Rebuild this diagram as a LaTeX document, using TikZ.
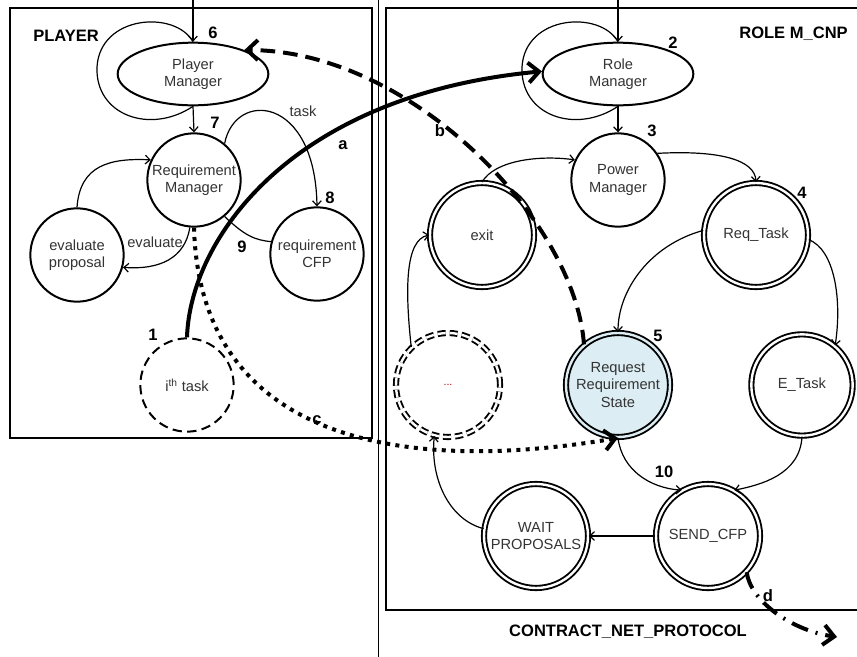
\documentclass[tikz,border=0pt]{standalone}
\usepackage{fontspec}
\setmainfont{Liberation Sans}
\usetikzlibrary{arrows.meta,shapes.geometric}
\definecolor{txt}{HTML}{333333}
\definecolor{rrsfill}{HTML}{DCEEF4}
\begin{document}
\begin{tikzpicture}[x=0.75pt,y=-0.75pt,
  every node/.style={font=\fontsize{11}{12.8}\selectfont, text=txt, align=center},
  lbl/.style={font=\bfseries\fontsize{12.4}{14}\selectfont, text=black, inner sep=0pt},
  elab/.style={inner sep=0pt},
  ell/.style={ellipse, draw, line width=1.5pt, minimum width=113pt, minimum height=47pt, inner sep=0pt},
  st/.style={circle, draw, line width=1.5pt, minimum size=70pt, inner sep=0pt},
  dst/.style={circle, draw, line width=1.4pt, double=white, double distance=1.8pt, minimum size=78pt, inner sep=0pt},
  thin/.style={line width=0.9pt},
  tr/.style={thin, -{Straight Barb[length=3.5pt,width=6.5pt]}},
  big/.style={line width=3pt, -{Straight Barb[length=8pt,width=15pt,line width=3pt]}},
]
\useasboundingbox (0,0) rectangle (857,657);

% frames
\draw[line width=2pt] (10,8) rectangle (372,438);
\draw[line width=2pt] (862,8) -- (386,8) -- (386,610) -- (862,610);
\draw[line width=0.6pt] (378,0) -- (378,657);

\node[lbl, anchor=west] (tP) at (33,36) {PLAYER};
\node[lbl, anchor=east] (tR) at (848,34) {ROLE M\_CNP};
\node[lbl] (tC) at (628,632) {CONTRACT\_NET\_PROTOCOL};

% nodes
\node[ell] (PM) at (193,74) {Player\\Manager};
\node[ell] (RoM) at (618,74) {Role\\Manager};
\node[st] (RM) at (194,180) {Requirement\\Manager};
\node[st] (EP) at (77,255) {evaluate\\proposal};
\node[st] (CFP) at (317,254) {requirement\\CFP};
\node[st, dash pattern=on 7pt off 4pt] (ITH) at (187,385) {i\textsuperscript{th} task};
\node[st] (PowM) at (618,180) {Power\\Manager};
\node[dst] (EXIT) at (482,235) {exit};
\node[dst] (REQT) at (756,235) {Req\_Task};
\node[dst, dash pattern=on 6pt off 3pt] (DOTS) at (448,385) {\textcolor{red!70!black}{\fontsize{8}{9}\selectfont...}};
\node[dst, fill=rrsfill, double=rrsfill] (RRS) at (618,385) {Request\\Requirement\\State};
\node[dst, minimum size=76pt] (ET) at (802,385) {E\_Task};
\node[dst] (SEND) at (708,536) {SEND\_CFP};
\node[dst] (WAIT) at (536,536) {WAIT\\PROPOSALS};

% number labels
\node[lbl] (n6) at (213,33) {6};
\node[lbl] (n7) at (215,123) {7};
\node[lbl] (n8) at (330,198) {8};
\node[lbl] (n9) at (242,247) {9};
\node[lbl] (n1) at (153,335) {1};
\node[lbl] (n2) at (673,43) {2};
\node[lbl] (n3) at (652,131) {3};
\node[lbl] (n4) at (802,193) {4};
\node[lbl] (n5) at (658,336) {5};
\node[lbl] (n10) at (664,472) {10};
\node[lbl] (la) at (343,145) {a};
\node[lbl] (lb) at (440,131) {b};
\node[lbl] (lc) at (317,420) {c};
\node[lbl] (ld) at (768,596) {d};
\node[elab] (ltask) at (303,111) {task};
\node[elab] (leval) at (155,242) {evaluate};

% coordinates
\coordinate (pmtop) at (193,0);
\coordinate (romtop) at (618,0);
\coordinate (dend) at (837,637);

% PLAYER connectors
\draw[tr] (pmtop) -- (PM.north);
\draw[thin] (PM.south) .. controls (150,135) and (95,115) .. (97,67) .. controls (100,15) and (175,10) .. (PM.north);
\draw[tr] (PM.south) -- (RM.north);
\draw[tr] (RM.50) .. controls (235,90) and (315,95) .. (CFP.north);
\draw[tr] (EP.north) .. controls (80,165) and (110,158) .. (RM.155);
\draw[tr] (RM.265) .. controls (185,258) and (160,270) .. (EP.-15);
\draw[thin] (RM.-50) .. controls (245,236) and (255,240) .. (CFP.165);

% ROLE connectors
\draw[tr] (romtop) -- (RoM.north);
\draw[thin] (RoM.south) .. controls (575,135) and (520,115) .. (522,67) .. controls (525,15) and (600,10) .. (RoM.north);
\draw[tr] (RoM.south) -- (PowM.north);
\draw[tr] (PowM.34) .. controls (720,150) and (755,160) .. (REQT.north);
\draw[tr] (EXIT.north) .. controls (495,160) and (540,155) .. (PowM.155);
\draw[tr] (REQT.175) .. controls (650,245) and (618,290) .. (RRS.north);
\draw[tr] (REQT.-5) .. controls (835,250) and (842,300) .. (ET.50);
\draw[tr] (ET.south) .. controls (800,475) and (760,485) .. (SEND.60);
\draw[tr] (RRS.south) .. controls (622,470) and (650,488) .. (SEND.120);
\draw[tr] (SEND.west) -- (WAIT.east);
\draw[tr] (WAIT.172) .. controls (450,520) and (430,480) .. (DOTS.-105);
\draw[tr] (DOTS.134) .. controls (405,290) and (405,240) .. (EXIT.180);

% big connectors
\draw[big] (ITH.north) .. controls (190,240) and (290,95) .. (RoM.178);
\draw[big, dash pattern=on 11pt off 6pt] (RRS.130) .. controls (575,220) and (410,50) .. (PM.25);
\draw[big, dash pattern=on 3pt off 4pt] (RM.south) .. controls (200,440) and (400,475) .. (RRS.south);
\draw[big, dash pattern=on 13pt off 6pt on 1.5pt off 6pt] (SEND.-43) .. controls (750,600) and (790,630) .. (dend);
\end{tikzpicture}
\end{document}
